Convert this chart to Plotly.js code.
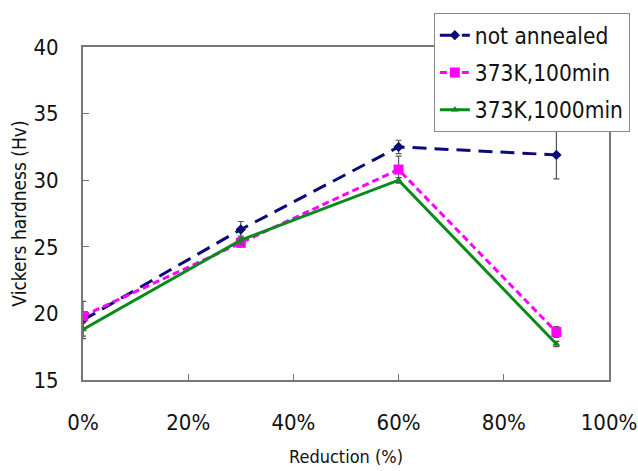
<!DOCTYPE html>
<html>
<head>
<meta charset="utf-8">
<script src="https://cdn.plot.ly/plotly-3.0.1.min.js"></script>
<style>html,body{margin:0;padding:0;background:#fff;}#chart{width:638px;height:471px;}</style>
</head>
<body>
<div id="chart"></div>
<script>
const reduction = [0, 30, 60, 90];
const seriesNames = ["not annealed", "373K,100min", "373K,1000min"];
const notAnnealed = [19.5, 26.3, 32.5, 31.9];
const notAnnealedErr = [1.4, 0.6, 0.5, 1.8];
const k100 = [19.8, 25.3, 30.8, 18.6];
const k100Err = [0.3, 0.3, 1.0, 0.4];
const k1000 = [18.8, 25.5, 30.0, 17.7];
const k1000Err = [0.5, 0.3, 0.2, 0.2];
const xTickVals = [0, 20, 40, 60, 80, 100];
const xTickText = ["0%", "20%", "40%", "60%", "80%", "100%"];
const yTickVals = [15, 20, 25, 30, 35, 40];

const FONT = '"DejaVu Sans Condensed", "Liberation Sans Narrow", "Noto Sans CJK JP", Arial, sans-serif';
const errStyle = (arr) => ({type: 'data', array: arr, visible: true, color: '#555', thickness: 1.2, width: 3});

const traces = [
  {x: reduction, y: notAnnealed, name: seriesNames[0], legendgroup: 'a', mode: 'lines+markers', type: 'scatter',
   line: {color: '#0a0a78', width: 3, dash: '14px,8px'},
   marker: {symbol: 'diamond', size: 8, color: '#0a0a78'},
   error_y: errStyle(notAnnealedErr)},
  {x: reduction, y: k100, name: seriesNames[1], legendgroup: 'b', mode: 'lines+markers', type: 'scatter',
   line: {color: '#ff00ff', width: 3, dash: '7px,4px'},
   marker: {symbol: 'square', size: 10, color: '#ff00ff'},
   error_y: errStyle(k100Err)},
  {x: reduction, y: k1000, name: seriesNames[2], legendgroup: 'c', mode: 'lines+markers', type: 'scatter',
   line: {color: '#0a8a1a', width: 3},
   marker: {symbol: 'triangle-up', size: 7, color: '#0a8a1a'},
   error_y: errStyle(k1000Err)}
];

const layout = {
  width: 638, height: 471,
  margin: {l: 83, r: 29, t: 47, b: 91, autoexpand: false},
  paper_bgcolor: '#fff', plot_bgcolor: '#fff',
  font: {family: FONT, color: '#111'},
  showlegend: true,
  legend: {x: 0.667, y: 1.102, xanchor: 'left', yanchor: 'top',
    bgcolor: '#fff', bordercolor: '#888', borderwidth: 1,
    font: {family: FONT, size: 22.5, color: '#111'}, itemwidth: 30, tracegroupgap: 5},
  xaxis: {range: [0, 100], tickvals: xTickVals, ticktext: xTickText,
    showgrid: false, zeroline: false, showline: true, mirror: true,
    linecolor: '#777', linewidth: 2, ticks: 'inside', ticklen: 6, tickcolor: '#777', tickwidth: 1,
    tickfont: {family: FONT, size: 22, color: '#111'}, ticklabelstandoff: 22,
    title: {text: 'Reduction (%)', font: {family: FONT, size: 18, color: '#111'}, standoff: 16}},
  yaxis: {range: [15, 40], tickvals: yTickVals,
    showgrid: false, zeroline: false, showline: true, mirror: true,
    linecolor: '#777', linewidth: 2, ticks: 'inside', ticklen: 6, tickcolor: '#777', tickwidth: 1,
    tickfont: {family: FONT, size: 22, color: '#111'}, ticklabelstandoff: 18,
    title: {text: 'Vickers hardness (Hv)', font: {family: FONT, size: 19, color: '#111'}, standoff: 2}}
};

Plotly.newPlot('chart', traces, layout, {displayModeBar: false, staticPlot: true});
</script>
</body>
</html>
